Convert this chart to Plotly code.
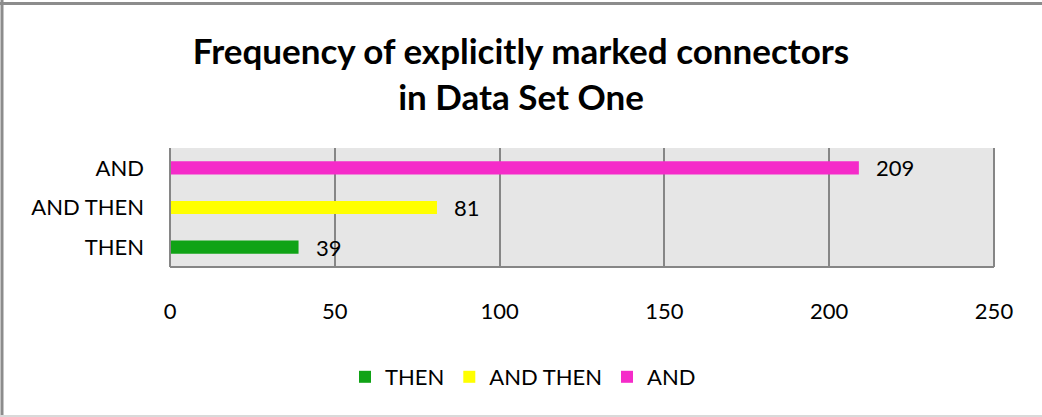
import plotly.graph_objects as go

categories = ["THEN", "AND THEN", "AND"]
values = [39, 81, 209]
colors = ["#10a316", "#ffff00", "#f52bc9"]
x_ticks = [0, 50, 100, 150, 200, 250]

W, H = 1042, 417
L, R, T, B = 170, 994, 148, 267
FONT = "Lato, Carlito, 'Open Sans', sans-serif"
FS = 22

fig = go.Figure()
for cat, val, col in zip(categories, values, colors):
    fig.add_trace(go.Bar(
        y=[cat], x=[val], orientation="h", name=cat,
        marker=dict(color=col, line=dict(width=0)), width=0.33,
    ))
    fig.add_annotation(x=val, y=cat, text=str(val), showarrow=False,
                       xanchor="left", xshift=15, yshift=0,
                       font=dict(family=FONT, size=FS, color="#000"))

def px(xp):
    return (xp - L) / (R - L)

def py(yp):
    return (B - yp) / (B - T)

fig.update_layout(
    width=W, height=H,
    margin=dict(l=L, r=W - R, t=T, b=H - B, pad=0),
    paper_bgcolor="white",
    plot_bgcolor="#e6e6e6",
    barmode="overlay",
    showlegend=True,
    title=dict(
        text="<b>Frequency of explicitly marked connectors<br>in Data Set One</b>",
        x=0.5, xanchor="center", y=1 - 64 / H, yanchor="top",
        font=dict(family=FONT, size=35, color="#000"),
    ),
    legend=dict(
        orientation="h", x=0.5 - 59 / (R - L), xanchor="center", y=py(377), yanchor="middle",
        font=dict(family=FONT, size=FS, color="#000"),
        itemwidth=30, traceorder="normal", bgcolor="rgba(0,0,0,0)",
    ),
    xaxis=dict(
        range=[0, 250], tickvals=x_ticks, showgrid=True, gridcolor="#868686",
        gridwidth=2, zeroline=False, showline=False,
        tickfont=dict(family=FONT, size=FS, color="#000"),
        ticks="", ticklabelstandoff=29, fixedrange=True,
    ),
    yaxis=dict(
        categoryorder="array", categoryarray=categories,
        showgrid=False, zeroline=False, showline=False,
        tickfont=dict(family=FONT, size=FS, color="#000"),
        ticks="", ticklabelstandoff=25, fixedrange=True,
    ),
)

# plot-area edges (left axis line, bottom, right)
for x0, x1, y0, y1 in [(0, 0, 0, 1), (0, 1, 0, 0), (1, 1, 0, 1)]:
    fig.add_shape(type="line", xref="paper", yref="paper", x0=x0, x1=x1, y0=y0, y1=y1,
                  line=dict(color="#868686", width=2))
# chart border
fig.add_shape(type="line", xref="paper", yref="paper", x0=px(0), x1=px(W), y0=py(3.5), y1=py(3.5),
              line=dict(color="#8c8c8c", width=3))
fig.add_shape(type="line", xref="paper", yref="paper", x0=px(2), x1=px(2), y0=py(0), y1=py(H),
              line=dict(color="#8c8c8c", width=3))
fig.add_shape(type="line", xref="paper", yref="paper", x0=px(0), x1=px(W), y0=py(416), y1=py(416),
              line=dict(color="#d9d9d9", width=2))

fig.write_html("out.html", config={"displayModeBar": False},
               post_script="document.body.style.margin='0';document.body.style.overflow='hidden';")
